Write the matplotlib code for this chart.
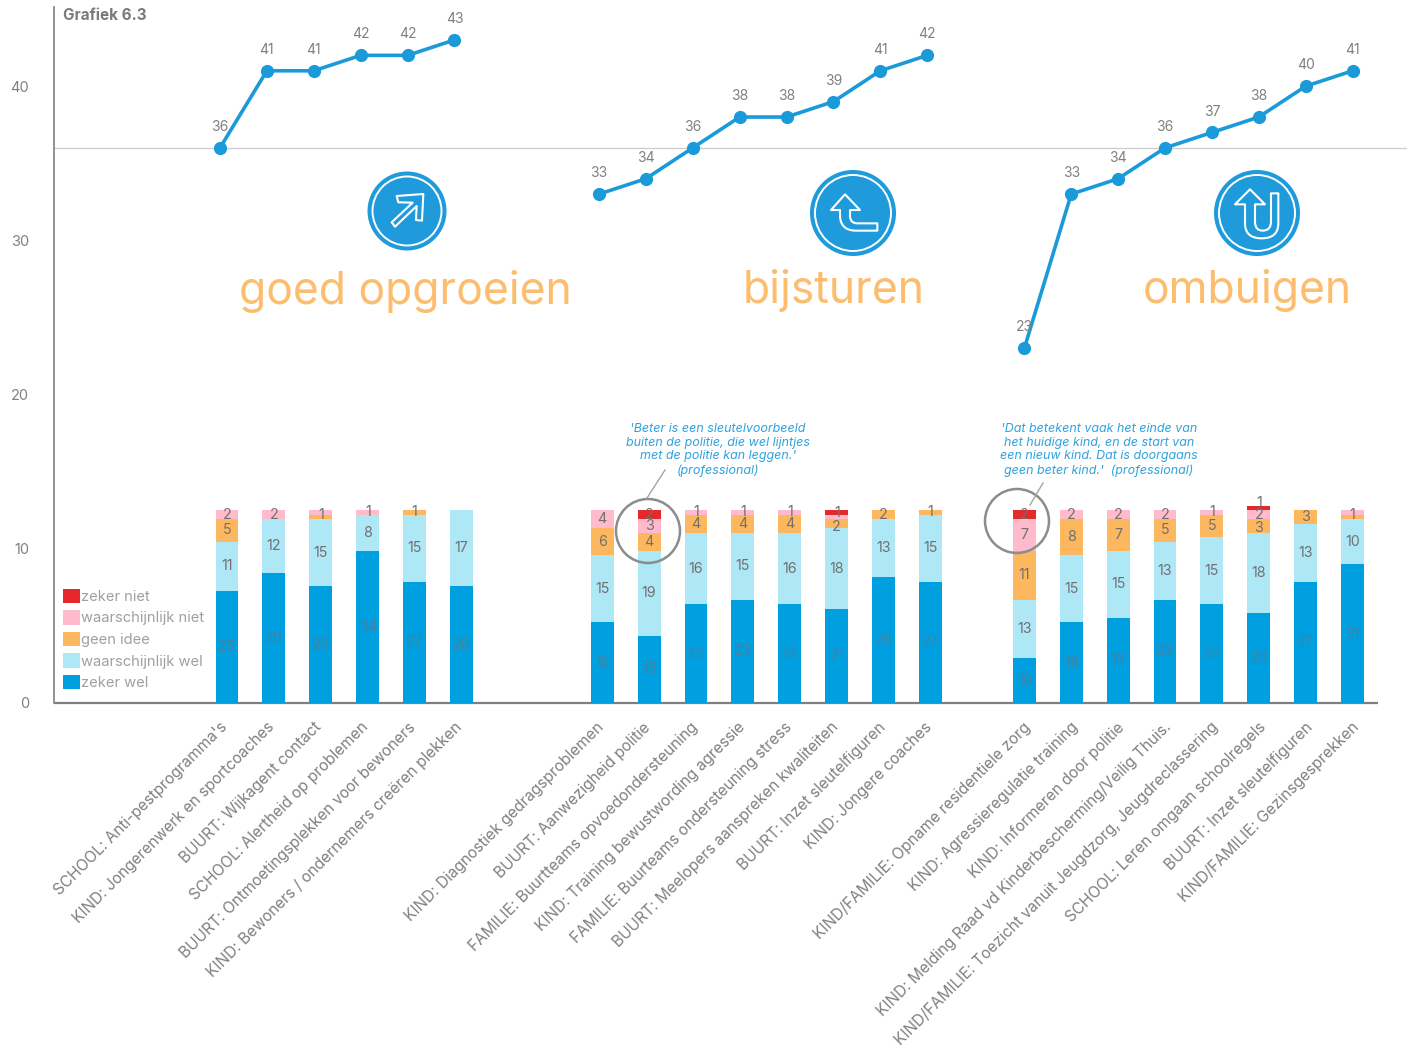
import numpy as np
import matplotlib
matplotlib.use('Agg')
import matplotlib.pyplot as plt
from matplotlib.patches import Circle, PathPatch
from matplotlib.path import Path
from matplotlib.transforms import Affine2D, ScaledTranslation

plt.rcParams['font.family'] = ['Inter', 'DejaVu Sans']

W, H = 1413, 1057

group_labels = ['goed opgroeien', 'bijsturen', 'ombuigen']

labels_1 = ["SCHOOL: Anti-pestprogramma's", "KIND: Jongerenwerk en sportcoaches", "BUURT: Wijkagent contact",
            "SCHOOL: Alertheid op problemen", "BUURT: Ontmoetingsplekken voor bewoners",
            "KIND: Bewoners / ondernemers creëren plekken"]
labels_2 = ["KIND: Diagnostiek gedragsproblemen", "BUURT: Aanwezigheid politie",
            "FAMILIE: Buurtteams opvoedondersteuning", "KIND: Training bewustwording agressie",
            "FAMILIE: Buurteams ondersteuning stress", "BUURT: Meelopers aanspreken kwaliteiten",
            "BUURT: Inzet sleutelfiguren", "KIND: Jongere coaches"]
labels_3 = ["KIND/FAMILIE: Opname residentiele zorg", "KIND: Agressieregulatie training",
            "KIND: Informeren door politie", "KIND: Melding Raad vd Kinderbescherming/Veilig Thuis.",
            "KIND/FAMILIE: Toezicht vanuit Jeugdzorg, Jeugdreclassering", "SCHOOL: Leren omgaan schoolregels",
            "BUURT: Inzet sleutelfiguren", "KIND/FAMILIE: Gezinsgesprekken"]

line_1 = [36, 41, 41, 42, 42, 43]
line_2 = [33, 34, 36, 38, 38, 39, 41, 42]
line_3 = [23, 33, 34, 36, 37, 38, 40, 41]

zeker_wel = [25, 29, 26, 34, 27, 26, 18, 15, 22, 23, 22, 21, 28, 27, 10, 18, 19, 23, 22, 20, 27, 31]
wschl_wel = [11, 12, 15, 8, 15, 17, 15, 19, 16, 15, 16, 18, 13, 15, 13, 15, 15, 13, 15, 18, 13, 10]
geen_idee = [5, 0, 1, 0, 1, 0, 6, 4, 4, 4, 4, 2, 2, 1, 11, 8, 7, 5, 5, 3, 3, 1]
wschl_niet = [2, 2, 1, 1, 0, 0, 4, 3, 1, 1, 1, 1, 0, 0, 7, 2, 2, 2, 1, 2, 0, 1]
zeker_niet = [0, 0, 0, 0, 0, 0, 0, 2, 0, 0, 0, 1, 0, 0, 2, 0, 0, 0, 0, 1, 0, 0]

series_names = ['zeker wel', 'waarschijnlijk wel', 'geen idee', 'waarschijnlijk niet', 'zeker niet']
series_vals = [zeker_wel, wschl_wel, geen_idee, wschl_niet, zeker_niet]
series_cols = ['#00A0E0', '#AEE8F7', '#FDB85F', '#FFBBCB', '#E6282B']

quote_1 = "'Beter is een sleutelvoorbeeld\nbuiten de politie, die wel lijntjes\nmet de politie kan leggen.'\n(professional)"
quote_2 = "'Dat betekent vaak het einde van\nhet huidige kind, en de start van\neen nieuw kind. Dat is doorgaans\ngeen beter kind.'  (professional)"

# layout
slots_1 = np.arange(0, 6)
slots_2 = np.arange(8, 16)
slots_3 = np.arange(17, 25)
slots = np.concatenate([slots_1, slots_2, slots_3])
all_labels = labels_1 + labels_2 + labels_3
# small pixel nudges (bar slot, series index) where thin segments crowd their digits
label_nudge = {(13, 2): -3, (13, 3): 1.5, (22, 4): 5, (22, 3): 0, (22, 2): -2.5}

GRAY = '#8b8b8b'
TXT = '#808080'
BLUE = '#1B9AD9'
ORANGE = '#FCBE6E'

fig = plt.figure(figsize=(W / 100, H / 100), dpi=100, facecolor='white')
left, right, top, bottom = 54, 1407, 7, 703
ax = fig.add_axes([left / W, 1 - bottom / H, (right - left) / W, (bottom - top) / H])
ymax = (703 - 7) / 15.42
ax.set_ylim(0, ymax)
x0, dx = 227, 46.9
ax.set_xlim((left - x0) / dx, (right - x0) / dx)

ax2 = ax.twinx()
ax2.set_ylim(0, ymax * 43 / 12.5)
ax2.axis('off')

# stacked bars
base = np.zeros(len(slots))
for name, vals, col in zip(series_names, series_vals, series_cols):
    vals = np.array(vals, float)
    ax2.bar(slots, vals, bottom=base, width=0.49, color=col, label=name, linewidth=0)
    base += vals

# segment labels: two neighbouring one-count slivers share one digit, as they read in the source
cum = np.cumsum(np.array(series_vals, float), axis=0)
for j, s in enumerate(slots):
    i = 0
    while i < len(series_vals):
        v = series_vals[i][j]
        if v == 0:
            i += 1
            continue
        lo = cum[i][j] - v
        hi = cum[i][j]
        nxt = i + 1
        if v == 1 and nxt < len(series_vals) and series_vals[nxt][j] == 1:
            hi = cum[nxt][j]
            nxt += 1
        tc = '#4A7F9F' if i == 0 else '#707070'
        ax2.annotate(f'{v}', (s, (lo + hi) / 2), xytext=(0, label_nudge.get((int(s), i), 0) * 0.72),
                     textcoords='offset points', ha='center', va='center', fontsize=10.3, color=tc)
        i = nxt

# axes styling
for sp in ['top', 'right', 'bottom']:
    ax.spines[sp].set_visible(False)
ax.spines['left'].set_color(GRAY)
ax.spines['left'].set_linewidth(1.3)
ax.set_yticks([0, 10, 20, 30, 40])
ax.tick_params(axis='y', length=0, labelsize=10.5, labelcolor=TXT, pad=18)
ax.set_xticks(slots)
ax.set_xticklabels(all_labels, rotation=45, ha='right', rotation_mode='anchor', fontsize=11.1, color=TXT)
ax.tick_params(axis='x', length=0, pad=12)
for lab, s in zip(ax.get_xticklabels(), slots):
    shift = -7 if s < 6 else (-6 if s < 16 else -1)
    lab.set_transform(lab.get_transform() + ScaledTranslation(shift / 100, 0, fig.dpi_scale_trans))
ax.plot([(left - x0) / dx, (1378 - x0) / dx], [0, 0], color='#7f7f7f', lw=1.6, clip_on=False, zorder=5, solid_capstyle='butt')
ax.axhline(36, color='#cfcfcf', lw=1, zorder=0)

# lines
ax3 = ax.twinx()
ax3.set_ylim(ax.get_ylim())
ax3.axis('off')
for sl, vals, off in [(slots_1, line_1, -0.15), (slots_2, line_2, -0.07), (slots_3, line_3, 0.0)]:
    xs = sl + off
    ax3.plot(xs, vals, '-o', color=BLUE, lw=2.6, ms=9.5, mew=0)
    for x, v in zip(xs, vals):
        ax3.annotate(str(v), (x, v), xytext=(0, 10), textcoords='offset points', ha='center', va='bottom',
                     fontsize=10, color=TXT)

# legend
h, l = ax2.get_legend_handles_labels()
leg = ax2.legend(h[::-1], l[::-1], loc='lower left', bbox_to_anchor=((63 - left - 3) / (right - left), (703 - 693) / (bottom - top)),
                 frameon=False, fontsize=10.6, labelcolor='#a0a0a0', handlelength=1.16, handleheight=1.16,
                 handletextpad=0.05, labelspacing=0.42, borderpad=0.2, borderaxespad=0)

# pixel-space helper for decorations
tr = Affine2D().scale(1 / W, -1 / H).translate(0, 1) + fig.transFigure


def circle(cx, cy, r, **kw):
    p = Circle((cx, cy), r, transform=tr, **kw)
    fig.add_artist(p)


def outline(verts, codes, ox, oy):
    pts = [(ox + a / 3, oy + b / 3) for a, b in verts]
    fig.add_artist(PathPatch(Path(pts, codes), transform=tr, fc='none', ec='white', lw=1.5, joinstyle='round'))


for cx, cy, r in [(407, 211, 39.5), (853, 213, 43), (1257, 213, 43)]:
    circle(cx, cy, r, fc='#1F9BDC', ec='none')
    circle(cx, cy, r - 5, fc='none', ec='white', lw=1.4)

L, C, Z = Path.LINETO, Path.CURVE3, Path.CLOSEPOLY
M = Path.MOVETO
outline([(140, 108), (220, 102), (216, 182), (198, 180), (200, 138), (135, 200), (125, 187), (188, 128), (145, 127), (140, 108)],
        [M, L, L, L, L, L, L, L, L, Z], 350, 160)
outline([(135, 103), (180, 150), (150, 150), (150, 170), (152, 190), (172, 190), (232, 190), (232, 212), (165, 212),
         (120, 210), (120, 165), (120, 150), (93, 150), (135, 103)],
        [M, L, L, L, C, C, L, L, L, C, C, L, L, Z], 800, 160)
outline([(150, 88), (195, 133), (165, 133), (165, 185), (165, 212), (188, 212), (213, 212), (213, 185), (213, 100), (235, 100),
         (235, 190), (235, 235), (185, 235), (135, 235), (135, 190), (135, 133), (105, 133), (150, 88)],
        [M, L, L, L, C, C, C, C, L, L, L, C, C, C, L, L, L, Z], 1200, 160)

# big group titles
for (px, py), t in zip([(405, 292), (834, 290), (1247, 290)], group_labels):
    fig.text(px / W, 1 - py / H, t, ha='center', va='center', fontsize=32, color=ORANGE)

# quotes
fig.text(718 / W, 1 - 450 / H, quote_1, ha='center', va='center', fontsize=9, style='italic', color='#2FA3DE', linespacing=1.17)
fig.text(1099 / W, 1 - 450 / H, quote_2, ha='center', va='center', fontsize=9, style='italic', color='#2FA3DE', linespacing=1.17)

# callout circles
for (cx, cy), seg in [((648, 531), ((647, 498), (665, 470))), ((1017, 521), ((1030, 505), (1043, 483)))]:
    circle(cx, cy, 32, fc='none', ec='#8c8c8c', lw=1.8)
    fig.add_artist(plt.Line2D([seg[0][0], seg[1][0]], [seg[0][1], seg[1][1]], transform=tr, color='#a5a5a5', lw=1))

fig.text(63 / W, 1 - 15 / H, 'Grafiek 6.3', ha='left', va='center', fontsize=11, fontweight='bold', color='#7a7a7a')

fig.savefig('out.png', dpi=100)
